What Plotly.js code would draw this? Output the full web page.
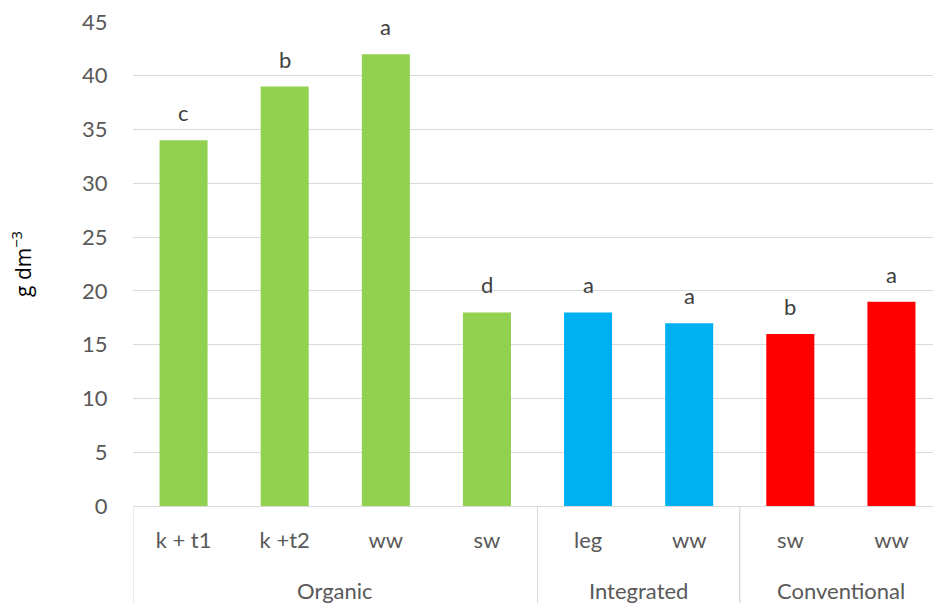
<!DOCTYPE html>
<html>
<head>
<meta charset="utf-8">
<script src="https://cdn.plot.ly/plotly-3.0.1.min.js"></script>
<style>
html,body{margin:0;padding:0;overflow:hidden;background:#fff;}
#chart{width:942px;height:603px;}
</style>
</head>
<body>
<div id="chart"></div>
<script>
const systems = ["Organic","Organic","Organic","Organic","Integrated","Integrated","Conventional","Conventional"];
const crops = ["k + t1","k +t2","ww","sw","leg","ww","sw","ww"];
const values = [34, 39, 42, 18, 18, 17, 16, 19];
const letters = ["c","b","a","d","a","a","b","a"];
const systemColors = {"Organic":"#92D050","Integrated":"#00B0F0","Conventional":"#FF0000"};
const yTicks = [0,5,10,15,20,25,30,35,40,45];

const FONT = "Lato, 'Open Sans', sans-serif";
const keys = crops.map((c, i) => systems[i] + " / " + c);

const trace = {
  type: "bar",
  x: keys,
  y: values,
  marker: {color: systems.map(s => systemColors[s])},
  hoverinfo: "x+y"
};

const annotations = values.map((v, i) => ({
  x: keys[i], xref: "x", yref: "y", y: v,
  text: letters[i], showarrow: false,
  yanchor: "bottom", yshift: 12,
  font: {family: FONT, size: 22, color: "#404040"}
}));

// group labels and dividers
const groups = [];
systems.forEach((s, i) => {
  if (i === 0 || s !== systems[i - 1]) groups.push({name: s, start: i, end: i});
  else groups[groups.length - 1].end = i;
});
groups.forEach(g => {
  annotations.push({
    x: (g.start + g.end) / 2, xref: "x", yref: "paper", y: -0.1736,
    text: g.name, showarrow: false, yanchor: "middle", xanchor: "center",
    font: {family: FONT, size: 22, color: "#595959"}
  });
});
const shapes = [];
groups.forEach(g => {
  [g.start - 0.5, g.end + 0.5].forEach(xb => {
    shapes.push({type: "line", xref: "x", yref: "paper", x0: xb, x1: xb, y0: 0, y1: -0.21,
      line: {color: "#D9D9D9", width: 1}});
  });
});

const layout = {
  width: 942, height: 603,
  margin: {l: 133, r: 0, t: 22, b: 97},
  paper_bgcolor: "#fff", plot_bgcolor: "#fff",
  showlegend: false,
  bargap: 0.525,
  font: {family: FONT, color: "#595959", size: 22},
  xaxis: {
    type: "category",
    range: [-0.5, keys.length - 0.5],
    tickvals: keys, ticktext: crops,
    showline: true, linecolor: "#D9D9D9", linewidth: 1,
    showgrid: false, zeroline: false,
    ticks: "outside", ticklen: 15, tickcolor: "rgba(0,0,0,0)",
    tickfont: {family: FONT, size: 22, color: "#595959"},
    fixedrange: true
  },
  yaxis: {
    range: [0, 45],
    tickvals: yTicks,
    ticktext: yTicks.map(String),
    showgrid: true, gridcolor: "#D9D9D9", gridwidth: 1,
    zeroline: false, showline: false,
    ticks: "outside", ticklen: 20, tickcolor: "rgba(0,0,0,0)",
    tickfont: {family: FONT, size: 22, color: "#595959"},
    title: {text: "g dm<sup>−3</sup>", font: {family: "'Open Sans', sans-serif", size: 21, color: "#000"}, standoff: 44},
    fixedrange: true
  },
  shapes: shapes,
  annotations: annotations
};

Plotly.newPlot("chart", [trace], layout, {displayModeBar: false, staticPlot: true});
</script>
</body>
</html>
